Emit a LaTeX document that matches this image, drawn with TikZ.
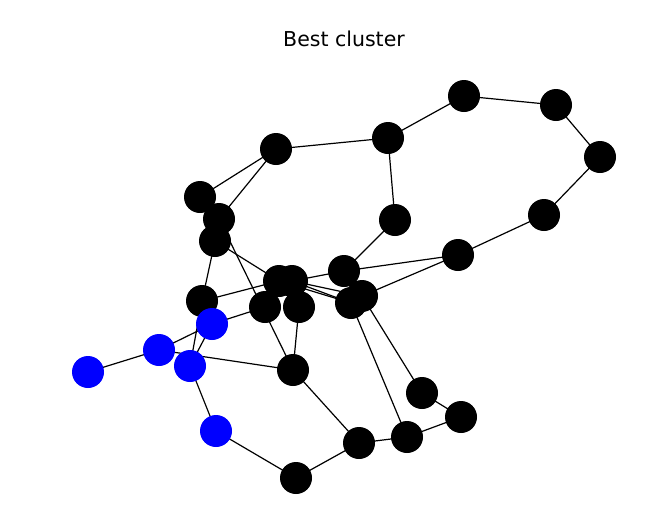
\documentclass[tikz,border=0pt]{standalone}
\usepackage{fontspec}
\setmainfont{DejaVu Sans}
\usetikzlibrary{positioning,backgrounds}

\tikzset{
  vtx/.style={circle,fill=black,draw=none,minimum size=32pt,inner sep=0pt},
  vtxblue/.style={vtx,fill=blue},
  lnk/.style={line width=1.2pt,black}
}

\begin{document}
\begin{tikzpicture}[x=1pt,y=1pt,yscale=-1,xscale=1]
  \useasboundingbox (0,0) rectangle (671,525);

  % Text Node
  \node[anchor=base,font=\fontsize{20.5}{24}\selectfont] (title) at (344,46.5) {Best cluster};

  %Black vertices
  \node[vtx] (nA) at (464,96) {};
  \node[vtx] (nB) at (556,105) {};
  \node[vtx] (nC) at (600,157) {};
  \node[vtx] (nD) at (544,215) {};
  \node[vtx] (nE) at (458,255) {};
  \node[vtx] (nF) at (388,138) {};
  \node[vtx] (nG) at (276,149) {};
  \node[vtx] (nH) at (200,197) {};
  \node[vtx] (nI) at (219,219) {};
  \node[vtx] (nJ) at (215,241) {};
  \node[vtx] (nK) at (395,220) {};
  \node[vtx] (nL) at (344,271) {};
  \node[vtx] (nO) at (265,307) {};
  \node[vtx] (nP) at (299,307) {};
  \node[vtx] (nM1) at (279,281) {};
  \node[vtx] (nM2) at (292,281) {};
  \node[vtx] (nN) at (202,301) {};
  \node[vtx] (nQ1) at (351,303) {};
  \node[vtx] (nQ2) at (362,296) {};
  \node[vtx] (nR) at (293,370) {};
  \node[vtx] (nS) at (422,393) {};
  \node[vtx] (nT) at (461,417) {};
  \node[vtx] (nU) at (407,437) {};
  \node[vtx] (nV) at (359,443) {};
  \node[vtx] (nW) at (296,478) {};

  %Blue vertices
  \node[vtxblue] (b1) at (88,372) {};
  \node[vtxblue] (b2) at (159,350) {};
  \node[vtxblue] (b3) at (190,366) {};
  \node[vtxblue] (b4) at (212,324) {};
  \node[vtxblue] (b5) at (216,431) {};

  %Edges, drawn behind the vertices
  \begin{scope}[on background layer]
    \foreach \u/\v in {nA/nB,nB/nC,nC/nD,nD/nE,nA/nF,nF/nG,nF/nK,nG/nH,nG/nI,
                       nK/nL,nE/nL,nE/nQ2,nL/nM2,nM1/nQ1,nM2/nQ1,nM2/nQ2,
                       nJ/nM1,nI/nR,nJ/nN,nN/nM1,nN/b3,b4/b3,b4/nO,
                       b2/b1,b2/b4,b2/nR,b3/b5,b5/nW,nW/nV,nV/nR,nV/nU,
                       nU/nT,nT/nS,nS/nQ2,nU/nQ1,nP/nR}
      \draw[lnk] (\u.center) -- (\v.center);
  \end{scope}
\end{tikzpicture}
\end{document}
